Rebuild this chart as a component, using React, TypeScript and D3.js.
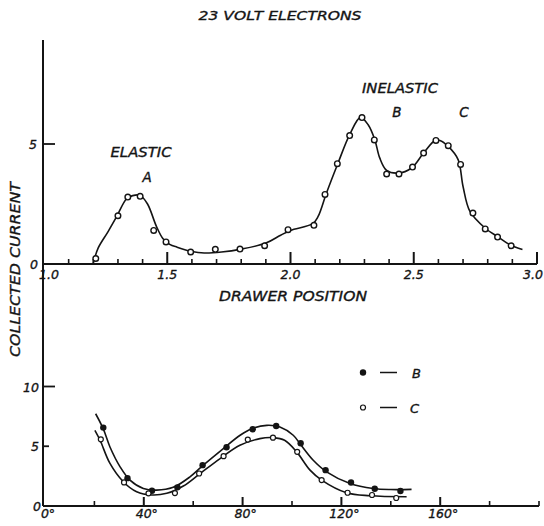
import React from 'react';
import { scaleLinear, line, curveCatmullRom } from 'd3';

const W = 544;
const H = 526;

// top panel: collected current vs drawer position (23 volt electrons)
const drawerPos = [1.21, 1.3, 1.34, 1.39, 1.445, 1.495, 1.595, 1.695, 1.795, 1.895, 1.99, 2.095, 2.14, 2.19, 2.24, 2.29, 2.34, 2.39, 2.44, 2.495, 2.54, 2.59, 2.64, 2.69, 2.74, 2.79, 2.84, 2.895];
const current = [0.23, 2.01, 2.79, 2.82, 1.4, 0.92, 0.5, 0.61, 0.62, 0.76, 1.43, 1.61, 2.9, 4.18, 5.35, 6.1, 5.17, 3.75, 3.75, 4.04, 4.62, 5.15, 4.93, 4.15, 2.12, 1.46, 1.12, 0.76];

const curvePos = [1.2, 1.22, 1.26, 1.295, 1.335, 1.36, 1.39, 1.42, 1.456, 1.483, 1.51, 1.54, 1.6, 1.65, 1.72, 1.8, 1.9, 1.96, 2.0, 2.09, 2.112, 2.146, 2.193, 2.24, 2.284, 2.315, 2.342, 2.362, 2.39, 2.437, 2.491, 2.538, 2.586, 2.606, 2.64, 2.68, 2.7, 2.728, 2.789, 2.843, 2.89, 2.941];
const curveVal = [0.04, 0.67, 1.35, 1.98, 2.72, 2.85, 2.86, 2.5, 1.57, 1.05, 0.82, 0.7, 0.52, 0.46, 0.5, 0.62, 0.87, 1.2, 1.4, 1.68, 1.98, 2.96, 4.21, 5.39, 6.11, 5.8, 5.18, 4.42, 3.9, 3.79, 4.0, 4.6, 5.15, 5.15, 4.9, 4.35, 3.23, 2.19, 1.5, 1.12, 0.8, 0.6];

const topTickLabels = ['1.0', '1.5', '2.0', '2.5', '3.0'];
const topYLabels = ['0', '5'];

// bottom panel: peaks B and C vs angle
const angleB = [23.6, 33.4, 43.3, 53.6, 63.8, 73.5, 84.1, 93.6, 103.5, 113.6, 123.9, 133.5, 143.9];
const currentB = [6.56, 2.33, 1.28, 1.56, 3.42, 4.92, 6.42, 6.69, 5.25, 3.0, 1.97, 1.44, 1.25];
const angleC = [22.6, 32.0, 41.9, 52.6, 62.4, 72.3, 82.1, 92.3, 102.1, 112.0, 122.5, 132.4, 142.2];
const currentC = [5.58, 1.97, 1.06, 1.08, 2.72, 4.17, 5.56, 5.72, 4.53, 2.17, 1.11, 0.92, 0.67];

const curveAngB = [20.5, 23.6, 26.3, 30.4, 34.4, 39.8, 45.2, 51.9, 58.7, 64.1, 72.2, 79, 83.7, 89.8, 95.1, 100.5, 103.2, 108.6, 114, 123.5, 132.9, 140, 148.4];
const curveValB = [7.72, 6.45, 4.94, 3.28, 2.17, 1.47, 1.33, 1.56, 2.44, 3.42, 4.81, 5.92, 6.47, 6.75, 6.61, 5.92, 5.22, 3.83, 2.86, 1.89, 1.47, 1.38, 1.39];
const curveAngC = [20.2, 22.3, 26.3, 31.7, 37.1, 43.2, 49.3, 56, 62.8, 70.9, 78.9, 87, 92.4, 97, 101.9, 107.3, 112, 122.1, 131.6, 146.4];
const curveValC = [6.33, 5.5, 3.56, 2.03, 1.19, 0.92, 1.06, 1.67, 2.72, 3.97, 5.08, 5.64, 5.72, 5.5, 4.53, 3.0, 2.17, 1.11, 0.86, 0.78];

const angleLabels = ['0°', '40°', '80°', '120°', '160°'];
const botYLabels = ['0', '5', '10'];

const ink = '#141414';
const font = {
  fontFamily: 'DejaVu Sans',
  fontStyle: 'italic' as const,
  fill: ink,
  stroke: ink,
  strokeWidth: 0.35,
};

export default function App() {
  const xTop = scaleLinear().domain([1, 3]).range([44, 537]);
  const yTop = scaleLinear().domain([0, 5]).range([264, 144]);
  const xBot = scaleLinear().domain([0, 200]).range([45, 539]);
  const yBot = scaleLinear().domain([0, 10]).range([506, 386.5]);

  const topLine = line<number>()
    .x((d) => xTop(curvePos[d]))
    .y((d) => yTop(curveVal[d]))
    .curve(curveCatmullRom.alpha(0.5));
  const lineB = line<number>()
    .x((d) => xBot(curveAngB[d]))
    .y((d) => yBot(curveValB[d]))
    .curve(curveCatmullRom.alpha(0.5));
  const lineC = line<number>()
    .x((d) => xBot(curveAngC[d]))
    .y((d) => yBot(curveValC[d]))
    .curve(curveCatmullRom.alpha(0.5));

  const topTicks = xTop.ticks(20).filter((t) => t > 1.001);
  const botTicks = xBot.ticks(10).filter((t) => t > 0);

  // nudge the first and last labels so they sit where the lettering does
  const topLabelShift = (l: string) => (l === '1.0' ? 5 : l === '3.0' ? -4 : 0);

  return (
    <svg width={W} height={H} style={{ position: 'absolute', left: 0, top: 0, background: '#fff' }}>
      <text x={280} y={20} fontSize={13} textLength={163} lengthAdjust="spacingAndGlyphs" textAnchor="middle" {...font}>
        23 VOLT  ELECTRONS
      </text>

      {/* shared vertical axis */}
      <line x1={43} x2={43} y1={40} y2={yBot(0)} stroke={ink} strokeWidth={2} />

      {/* top x axis */}
      <line x1={43} x2={xTop(3)} y1={yTop(0)} y2={yTop(0)} stroke={ink} strokeWidth={2} />
      {topTicks.map((t) => {
        const major = Math.abs(t * 2 - Math.round(t * 2)) < 1e-6;
        return (
          <line key={t} x1={xTop(t)} x2={xTop(t)} y1={yTop(0)} y2={yTop(0) - (major ? 12 : 5)} stroke={ink} strokeWidth={major ? 2 : 1.6} />
        );
      })}
      {topTickLabels.map((l) => (
        <text key={l} x={xTop(+l) + topLabelShift(l)} y={279} fontSize={12.5} textAnchor="middle" {...font}>
          {l}
        </text>
      ))}
      <line x1={43} x2={55} y1={yTop(5)} y2={yTop(5)} stroke={ink} strokeWidth={1.8} />
      {topYLabels.map((l) => (
        <text key={l} x={l === '0' ? 38 : 37} y={l === '0' ? 269 : yTop(+l) + 5} fontSize={12.5} textAnchor="end" {...font}>
          {l}
        </text>
      ))}

      <path d={topLine(curvePos.map((_, i) => i)) || ''} fill="none" stroke={ink} strokeWidth={1.6} />
      {drawerPos.map((p, i) => (
        <circle key={i} cx={xTop(p)} cy={yTop(current[i])} r={2.8} fill="#fff" stroke={ink} strokeWidth={1.4} />
      ))}

      <text x={141} y={157} fontSize={13.5} textLength={61} lengthAdjust="spacingAndGlyphs" textAnchor="middle" {...font}>ELASTIC</text>
      <text x={147} y={182} fontSize={13.5} textAnchor="middle" {...font}>A</text>
      <text x={400} y={93} fontSize={13.5} textLength={76} lengthAdjust="spacingAndGlyphs" textAnchor="middle" {...font}>INELASTIC</text>
      <text x={397} y={117} fontSize={13.5} textAnchor="middle" {...font}>B</text>
      <text x={464} y={117} fontSize={13.5} textAnchor="middle" {...font}>C</text>

      <text x={293} y={301} fontSize={13.5} textLength={148} lengthAdjust="spacingAndGlyphs" textAnchor="middle" {...font}>
        DRAWER  POSITION
      </text>
      <text transform="translate(20,269.5) rotate(-90)" fontSize={13.5} textLength={175} lengthAdjust="spacingAndGlyphs" textAnchor="middle" {...font}>
        COLLECTED  CURRENT
      </text>

      {/* bottom x axis */}
      <line x1={43} x2={xBot(200)} y1={yBot(0)} y2={yBot(0)} stroke={ink} strokeWidth={2} />
      {botTicks.map((t) => {
        const major = t % 40 === 0 && t < 200;
        return (
          <line key={t} x1={xBot(t)} x2={xBot(t)} y1={yBot(0)} y2={yBot(0) - (major ? 9 : 5)} stroke={ink} strokeWidth={major ? 2 : 1.6} />
        );
      })}
      {angleLabels.map((l) => (
        <text key={l} x={xBot(parseFloat(l)) + 3} y={518} fontSize={12.5} textAnchor="middle" {...font}>
          {l}
        </text>
      ))}
      <line x1={43} x2={55} y1={yBot(10)} y2={yBot(10)} stroke={ink} strokeWidth={1.8} />
      <line x1={43} x2={49} y1={yBot(5)} y2={yBot(5)} stroke={ink} strokeWidth={1.8} />
      {botYLabels.map((l) => (
        <text key={l} x={l === '0' ? 41 : 39} y={yBot(+l) + 5} fontSize={12.5} textAnchor="end" {...font}>
          {l}
        </text>
      ))}

      <path d={lineB(curveAngB.map((_, i) => i)) || ''} fill="none" stroke={ink} strokeWidth={1.6} />
      <path d={lineC(curveAngC.map((_, i) => i)) || ''} fill="none" stroke={ink} strokeWidth={1.6} />
      {angleB.map((a, i) => (
        <circle key={'b' + i} cx={xBot(a)} cy={yBot(currentB[i])} r={3.2} fill={ink} />
      ))}
      {angleC.map((a, i) => (
        <circle key={'c' + i} cx={xBot(a)} cy={yBot(currentC[i])} r={2.5} fill="#fff" stroke={ink} strokeWidth={1.2} />
      ))}

      {/* legend */}
      <circle cx={363} cy={372.5} r={3.2} fill={ink} />
      <line x1={380} x2={397} y1={372.5} y2={372.5} stroke={ink} strokeWidth={1.5} />
      <text x={412} y={377.5} fontSize={13} {...font}>B</text>
      <circle cx={363} cy={407.5} r={2.5} fill="#fff" stroke={ink} strokeWidth={1.2} />
      <line x1={380} x2={397} y1={407.5} y2={407.5} stroke={ink} strokeWidth={1.5} />
      <text x={410} y={412.5} fontSize={13} {...font}>C</text>
    </svg>
  );
}
